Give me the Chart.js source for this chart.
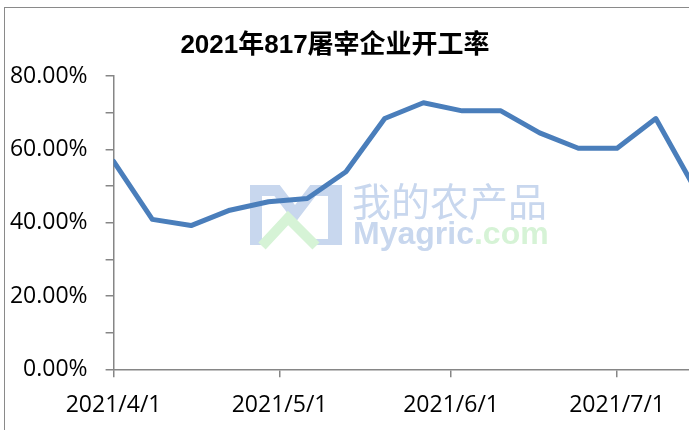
<!DOCTYPE html>
<html>
<head>
<meta charset="utf-8">
<title>2021年817屠宰企业开工率</title>
<script src="https://cdn.jsdelivr.net/npm/chart.js@4/dist/chart.umd.min.js"></script>
<style>
  html, body { margin: 0; padding: 0; background: #fff; overflow: hidden; }
  #wrap { position: relative; width: 689px; height: 430px; overflow: hidden; }
  #frame { position: absolute; left: 4px; top: 7px; width: 800px; height: 600px;
           border-left: 1px solid #8a8a8a; border-top: 1px solid #8a8a8a; }
  #chart { position: absolute; left: 0; top: 0; }
</style>
</head>
<body>
<div id="wrap">
  <div id="frame"></div>
  <canvas id="chart" width="689" height="430"></canvas>
</div>
<script>
// Chart data
const chartTitle = '2021年817屠宰企业开工率';
const dates = ['2021/4/1', '2021/4/8', '2021/4/15', '2021/4/22', '2021/4/29', '2021/5/6',
  '2021/5/13', '2021/5/20', '2021/5/27', '2021/6/3', '2021/6/10', '2021/6/17',
  '2021/6/24', '2021/7/1', '2021/7/8', '2021/7/15'];
const rates = [56.7, 40.9, 39.2, 43.4, 45.7, 46.6, 53.9, 68.4, 72.7, 70.5, 70.5, 64.5,
  60.3, 60.3, 68.4, 49.5];
const xTickLabels = ['2021/4/1', '2021/5/1', '2021/6/1', '2021/7/1'];
const yMin = 0;
const yMax = 80;
const xStart = '2021/4/1';
const xEnd = '2021/7/14';   // picture is cut off on the right here

// days since the first date
function dayOf(s) {
  const [y, m, d] = s.split('/').map(Number);
  const [y0, m0, d0] = xStart.split('/').map(Number);
  return (Date.UTC(y, m - 1, d) - Date.UTC(y0, m0 - 1, d0)) / 86400000;
}

function labelForDay(v) {
  const hit = xTickLabels.find(l => dayOf(l) === v);
  return hit || '';
}

const axisColor = '#868686';
const tickFont = { family: '"Open Sans", "Liberation Sans", sans-serif', size: 23 };

// title drawn at its own spot (Excel centred it on the uncut chart)
const titlePlugin = {
  id: 'excelTitle',
  afterDraw(chart) {
    const ctx = chart.ctx;
    ctx.save();
    ctx.font = 'bold 26px "Liberation Sans", "Noto Sans CJK SC", sans-serif';
    ctx.fillStyle = '#000';
    ctx.textAlign = 'center';
    ctx.textBaseline = 'alphabetic';
    ctx.fillText(chartTitle, 335, 53);
    ctx.restore();
  }
};

// faint site watermark behind the line
const watermarkPlugin = {
  id: 'watermark',
  beforeDatasetsDraw(chart) {
    const ctx = chart.ctx;
    ctx.save();
    // logo
    const blue = '#c8d7ee';
    const green = '#d6f3d6';
    ctx.fillStyle = blue;
    ctx.fillRect(250, 185, 12, 60);
    ctx.fillRect(328, 185, 14, 60);
    ctx.fillRect(315, 239, 27, 6);
    ctx.strokeStyle = blue;
    ctx.lineWidth = 11;
    ctx.lineJoin = 'miter';
    ctx.beginPath();
    ctx.moveTo(256, 190.5);
    ctx.lineTo(277, 190.5);
    ctx.lineTo(295, 214);
    ctx.lineTo(313, 190.5);
    ctx.lineTo(334, 190.5);
    ctx.stroke();
    ctx.strokeStyle = green;
    ctx.lineWidth = 10;
    ctx.beginPath();
    ctx.moveTo(262, 246);
    ctx.lineTo(288, 218);
    ctx.lineTo(316, 246);
    ctx.stroke();
    // text
    ctx.textBaseline = 'alphabetic';
    ctx.textAlign = 'left';
    ctx.fillStyle = blue;
    ctx.font = '39px "Noto Sans CJK SC", sans-serif';
    ctx.fillText('我的农产品', 352, 216);
    ctx.font = 'bold 32px "Liberation Sans", sans-serif';
    ctx.fillText('Myagric', 353, 244);
    const w = ctx.measureText('Myagric').width;
    ctx.fillStyle = green;
    ctx.font = 'bold 32px "Liberation Sans", sans-serif';
    ctx.fillText('.com', 353 + w, 244);
    ctx.restore();
  }
};

new Chart(document.getElementById('chart'), {
  type: 'line',
  data: {
    datasets: [{
      label: chartTitle,
      data: dates.map((d, i) => ({ x: dayOf(d), y: rates[i] })),
      borderColor: '#4a7ebb',
      borderWidth: 5,
      borderJoinStyle: 'round',
      borderCapStyle: 'round',
      pointRadius: 0,
      tension: 0,
      fill: false
    }]
  },
  options: {
    responsive: false,
    animation: false,
    devicePixelRatio: 1,
    layout: { padding: { top: 76, left: 0, right: 0, bottom: 0 } },
    plugins: {
      legend: { display: false },
      title: { display: false },
      tooltip: { enabled: false }
    },
    scales: {
      x: {
        type: 'linear',
        min: 0,
        max: dayOf(xEnd),
        afterFit(scale) { scale.height = 60.7; },
        afterBuildTicks(scale) {
          scale.ticks = xTickLabels.map(l => ({ value: dayOf(l) }));
        },
        border: { display: true, color: axisColor, width: 1.5 },
        grid: { display: true, drawOnChartArea: false, drawTicks: true, tickLength: 8, color: axisColor, lineWidth: 1.5 },
        ticks: {
          autoSkip: false,
          maxRotation: 0,
          padding: 14,
          color: '#000',
          font: tickFont,
          callback: v => labelForDay(v)
        }
      },
      y: {
        min: yMin,
        max: yMax,
        afterFit(scale) { scale.width = 113.6; },
        border: { display: true, color: axisColor, width: 1.5 },
        grid: { display: true, drawOnChartArea: false, drawTicks: true, tickLength: 8, color: axisColor, lineWidth: 1.5 },
        ticks: {
          stepSize: 10,
          padding: 18,
          color: '#000',
          font: tickFont,
          callback: v => (v % 20 === 0 ? v.toFixed(2) + '%' : '')
        }
      }
    }
  },
  plugins: [watermarkPlugin, titlePlugin]
});
</script>
</body>
</html>
